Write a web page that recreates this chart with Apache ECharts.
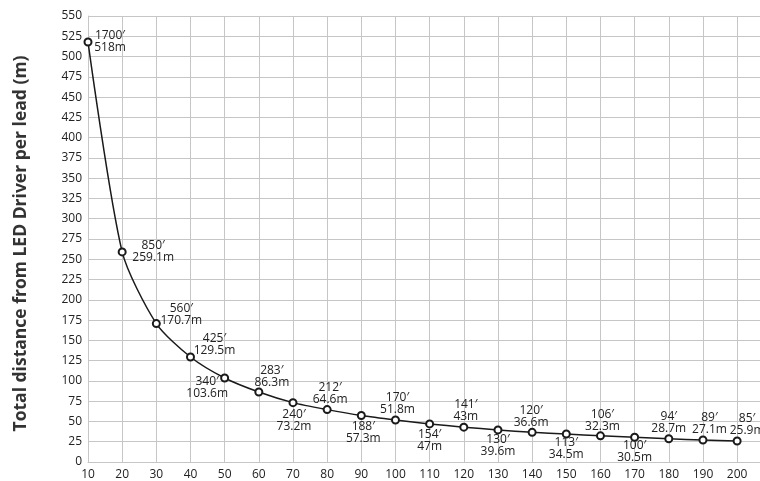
<!DOCTYPE html>
<html>
<head>
<meta charset="utf-8">
<script src="https://cdn.jsdelivr.net/npm/echarts@6/dist/echarts.min.js"></script>
<style>
  html, body { margin: 0; padding: 0; background: #fff; }
  #main { width: 760px; height: 481px; }
</style>
</head>
<body>
<div id="main"></div>
<script>
// x: LED load, y: max distance in metres, feet shown in labels
var loads = [10, 20, 30, 40, 50, 60, 70, 80, 90, 100, 110, 120, 130, 140, 150, 160, 170, 180, 190, 200];
var metres = [518, 259.1, 170.7, 129.5, 103.6, 86.3, 73.2, 64.6, 57.3, 51.8, 47, 43, 39.6, 36.6, 34.5, 32.3, 30.5, 28.7, 27.1, 25.9];
var feet = [1700, 850, 560, 425, 340, 283, 240, 212, 188, 170, 154, 141, 130, 120, 113, 106, 100, 94, 89, 85];

// where each label sits relative to its point
var labelOffsets = [
  [22, 0], [31, 0], [25, -8.5], [24, -12], [-17.5, 10], [13, -15.5], [1, 17.5],
  [3, -16], [2, 17], [2, -16], [0, 17], [2, -17], [0, 16], [-1, -16],
  [0, 15], [2, -15], [0, 14], [0, -16], [6.5, -16], [10, -16]
];

var font = 'Open Sans';
var pts = loads.map(function (x, i) {
  return {
    value: [x, metres[i]],
    label: {
      formatter: feet[i] + '\u2032\n' + metres[i] + 'm',
      offset: labelOffsets[i]
    }
  };
});

var myChart = echarts.init(document.getElementById('main'));
myChart.setOption({
  animation: false,
  grid: { left: 88, right: 0, top: 16, bottom: 19, outerBoundsMode: 'none' },
  xAxis: {
    type: 'value',
    min: 10,
    max: 206.7,   // grid runs a little past the last point
    interval: 10,
    axisLine: { show: true, lineStyle: { color: '#c6c6c6', width: 1 } },
    axisTick: { show: false },
    axisLabel: {
      color: '#222', fontFamily: font, fontSize: 12, margin: 7,
      formatter: function (v) { return v > 200 ? '' : v; }
    },
    splitLine: { show: true, lineStyle: { color: '#c6c6c6', width: 1 } }
  },
  yAxis: {
    type: 'value',
    min: 0,
    max: 550,
    interval: 25,
    name: 'Total distance from LED Driver per lead (m)',
    nameLocation: 'middle',
    nameGap: 58,
    nameTextStyle: {
      color: '#333', fontFamily: font, fontSize: 17.5, fontWeight: 'bold',
      padding: [0, 9, 0, 0]
    },
    axisLine: { show: true, lineStyle: { color: '#c6c6c6', width: 1 } },
    axisTick: { show: false },
    axisLabel: { color: '#222', fontFamily: font, fontSize: 12, margin: 6 },
    splitLine: { show: true, lineStyle: { color: '#c6c6c6', width: 1 } }
  },
  series: [{
    type: 'line',
    data: pts,
    smooth: 0.25,
    symbol: 'emptyCircle',
    symbolSize: 7,
    lineStyle: { color: '#1a1a1a', width: 1.5 },
    itemStyle: { color: '#1a1a1a', borderWidth: 1.3 },
    label: {
      show: true,
      position: 'inside',
      color: '#222',
      fontFamily: font,
      fontSize: 12,
      lineHeight: 12,
      align: 'center'
    }
  }]
});
</script>
</body>
</html>
